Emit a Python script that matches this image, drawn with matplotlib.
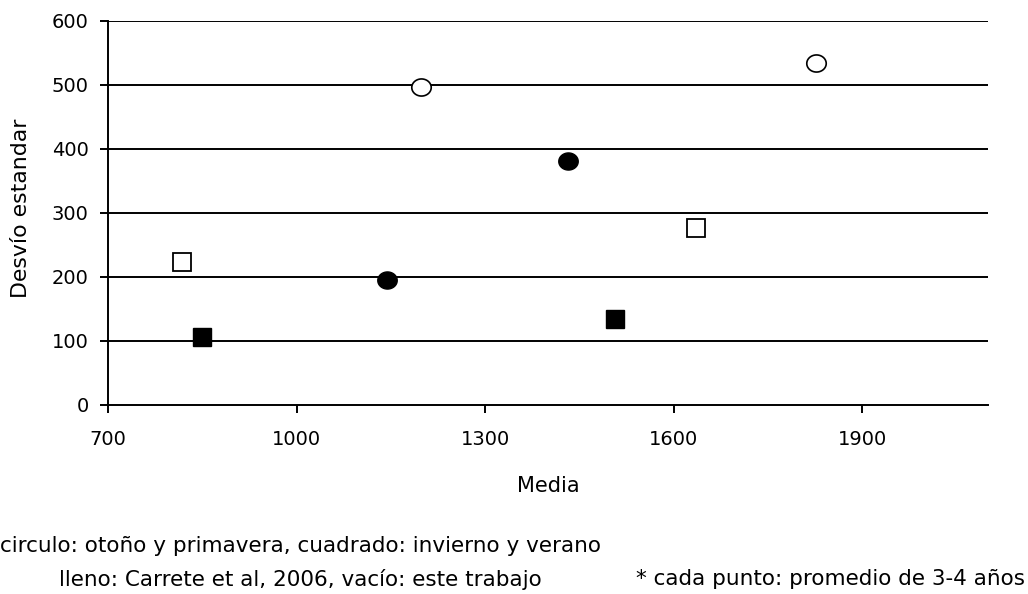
import matplotlib
matplotlib.use("Agg")
import matplotlib.pyplot as plt
import numpy as np
from matplotlib.path import Path

# Data (Media, Desvío estandar)
filled_circle_x = [1144, 1432]
filled_circle_y = [195, 381]
open_circle_x = [1198, 1826]
open_circle_y = [497, 535]
filled_square_x = [850, 1506]
filled_square_y = [107, 135]
open_square_x = [817, 1636]
open_square_y = [223, 276]

x_ticks = [700, 1000, 1300, 1600, 1900]
y_ticks = [0, 100, 200, 300, 400, 500, 600]

plt.rcParams['font.family'] = ['DejaVu Sans']

W, H = 1028, 594
fig = plt.figure(figsize=(W/100, H/100), dpi=100)
ax = fig.add_axes([108/W, 1 - 405/H, (988-108)/W, (405-21)/H])

ax.set_xlim(700, 2100)
ax.set_ylim(0, 600)
ax.set_xticks(x_ticks)
ax.set_yticks(y_ticks)
for y in y_ticks[1:]:
    ax.axhline(y, color='black', lw=1.4, zorder=1)

for s in ['top', 'right']:
    ax.spines[s].set_visible(False)
for s in ['left', 'bottom']:
    ax.spines[s].set_linewidth(1.4)

ax.tick_params(axis='both', direction='out', length=6, width=1.4, labelsize=14)
ax.tick_params(axis='y', pad=8)
ax.tick_params(axis='x', pad=12)

# slightly wide ellipse marker
t = np.linspace(0, 2*np.pi, 60)
ellipse = Path(np.column_stack([np.cos(t), 0.88*np.sin(t)]), closed=True)

ax.plot(filled_circle_x, filled_circle_y, marker=ellipse, ms=14, mfc='black', mec='black', ls='none', zorder=3, clip_on=False)
ax.plot(open_circle_x, open_circle_y, marker=ellipse, ms=14, mfc='white', mec='black', mew=1.2, ls='none', zorder=3, clip_on=False)
ax.plot(filled_square_x, filled_square_y, 's', ms=13, mfc='black', mec='black', ls='none', zorder=3, clip_on=False)
ax.plot(open_square_x, open_square_y, 's', ms=13, mfc='white', mec='black', mew=1.3, ls='none', zorder=3, clip_on=False)

fig.text(548/W, 1 - 486/H, 'Media', ha='center', va='center', fontsize=15)
fig.text(21/W, 1 - 208/H, 'Desvío estandar', ha='center', va='center', rotation=90, fontsize=15.8)

fig.text(300/W, 1 - 546/H, 'circulo: otoño y primavera, cuadrado: invierno y verano',
         ha='center', va='center', fontsize=15.5)
fig.text(300/W, 1 - 579/H, 'lleno: Carrete et al, 2006, vacío: este trabajo',
         ha='center', va='center', fontsize=15.5)
fig.text(1025/W, 1 - 579/H, '* cada punto: promedio de 3-4 años',
         ha='right', va='center', fontsize=15.5)

fig.savefig('out.png', dpi=100)
